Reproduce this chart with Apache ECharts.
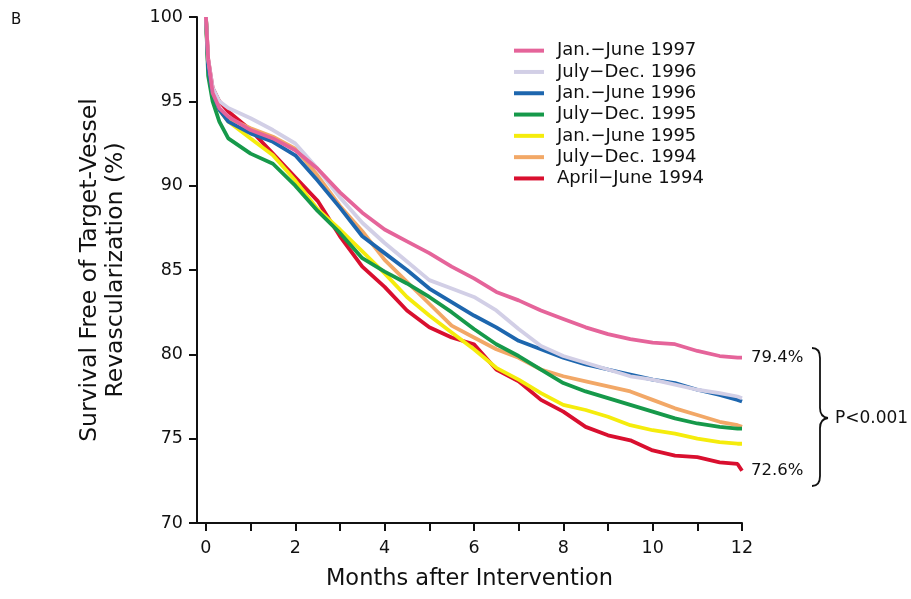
<!DOCTYPE html>
<html>
<head>
<meta charset="utf-8">
<script src="https://cdn.jsdelivr.net/npm/echarts@6/dist/echarts.min.js"></script>
<style>
  html, body { margin: 0; padding: 0; background: #fff; }
  #chart { width: 911px; height: 599px; }
</style>
</head>
<body>
<div id="chart"></div>
<script>
// months after intervention (shared x values for all curves)
var months = [0, 0.05, 0.15, 0.3, 0.5, 1, 1.5, 2, 2.5, 3, 3.5, 4, 4.5, 5, 5.5, 6,
              6.5, 7, 7.5, 8, 8.5, 9, 9.5, 10, 10.5, 11, 11.5, 11.9, 12];

// survival free of TVR (%)
var janJune1997 = [100, 97.5, 95.5, 94.6, 94.1, 93.3, 92.8, 92.1, 91.0, 89.6, 88.4, 87.4, 86.7, 86.0, 85.2, 84.5,
                   83.7, 83.2, 82.6, 82.1, 81.6, 81.2, 80.9, 80.7, 80.6, 80.2, 79.9, 79.8, 79.8];
var julyDec1996 = [100, 97.5, 95.8, 95.0, 94.6, 94.0, 93.3, 92.5, 91.0, 89.3, 87.8, 86.6, 85.5, 84.4, 83.9, 83.4,
                   82.6, 81.5, 80.5, 79.9, 79.5, 79.1, 78.7, 78.5, 78.2, 77.9, 77.7, 77.5, 77.4];
var janJune1996 = [100, 97.0, 95.5, 94.5, 93.8, 93.1, 92.6, 91.8, 90.3, 88.7, 87.0, 86.0, 85.0, 83.9, 83.1, 82.3,
                   81.6, 80.8, 80.3, 79.8, 79.4, 79.1, 78.8, 78.5, 78.3, 77.9, 77.6, 77.3, 77.2];
var julyDec1995 = [100, 96.5, 95.0, 93.8, 92.8, 91.9, 91.3, 90.0, 88.5, 87.2, 85.7, 84.9, 84.2, 83.4, 82.5, 81.5,
                   80.6, 79.9, 79.1, 78.3, 77.8, 77.4, 77.0, 76.6, 76.2, 75.9, 75.7, 75.6, 75.6];
var janJune1995 = [100, 97.0, 95.5, 94.5, 93.8, 92.8, 91.8, 90.3, 88.6, 87.4, 86.1, 84.8, 83.4, 82.3, 81.3, 80.3,
                   79.2, 78.5, 77.7, 77.0, 76.7, 76.3, 75.8, 75.5, 75.3, 75.0, 74.8, 74.7, 74.7];
var julyDec1994 = [100, 97.0, 95.5, 94.5, 94.0, 93.4, 92.9, 92.2, 90.6, 88.8, 87.3, 85.6, 84.3, 83.0, 81.7, 81.0,
                   80.3, 79.8, 79.1, 78.7, 78.4, 78.1, 77.8, 77.3, 76.8, 76.4, 76.0, 75.8, 75.7];
var aprilJune1994 = [100, 97.5, 95.8, 95.0, 94.4, 93.3, 91.9, 90.5, 89.1, 87.0, 85.2, 84.0, 82.6, 81.6, 81.0, 80.6,
                     79.1, 78.4, 77.3, 76.6, 75.7, 75.2, 74.9, 74.3, 74.0, 73.9, 73.6, 73.5, 73.1];

var seriesNames = ['Jan.\u2212June 1997', 'July\u2212Dec. 1996', 'Jan.\u2212June 1996', 'July\u2212Dec. 1995',
                   'Jan.\u2212June 1995', 'July\u2212Dec. 1994', 'April\u2212June 1994'];
var seriesColors = ['#e5649a', '#d2cfe6', '#1d66ae', '#16994a', '#f5ec0c', '#f2a867', '#d90f2f'];
var seriesValues = [janJune1997, julyDec1996, janJune1996, julyDec1995, janJune1995, julyDec1994, aprilJune1994];
var endLabels = {0: '79.4%', 6: '72.6%'};

var xTicks = [0, 1, 2, 3, 4, 5, 6, 7, 8, 9, 10, 11, 12];
var xLabels = [0, 2, 4, 6, 8, 10, 12];

var FONT = "'DejaVu Sans', 'Liberation Sans', sans-serif";

function pairs(vals) {
    var out = [];
    for (var i = 0; i < months.length; i++) {
        out.push([months[i], vals[i]]);
    }
    return out;
}

var myChart = echarts.init(document.getElementById('chart'));

var series = [];
// draw oldest cohort first so that Jan.-June 1997 ends on top
for (var k = seriesNames.length - 1; k >= 0; k--) {
    var s = {
        name: seriesNames[k],
        type: 'line',
        data: pairs(seriesValues[k]),
        showSymbol: false,
        symbol: 'none',
        color: seriesColors[k],
        lineStyle: { width: 3.8, color: seriesColors[k] }
    };
    if (endLabels[k]) {
        s.endLabel = {
            show: true,
            formatter: endLabels[k],
            fontFamily: FONT,
            fontSize: 16.5,
            color: '#111',
            distance: 9
        };
    }
    series.push(s);
}

// curly brace next to the end values
var braceStyle = { fill: 'none', stroke: '#111', lineWidth: 1.8 };
var brace = [
    { type: 'bezierCurve', shape: { x1: 812, y1: 348, cpx1: 820, cpy1: 348, x2: 820, y2: 358 }, style: braceStyle },
    { type: 'line', shape: { x1: 820, y1: 358, x2: 820, y2: 408 }, style: braceStyle },
    { type: 'bezierCurve', shape: { x1: 820, y1: 408, cpx1: 820, cpy1: 417, x2: 828, y2: 418 }, style: braceStyle },
    { type: 'bezierCurve', shape: { x1: 828, y1: 418, cpx1: 820, cpy1: 419, x2: 820, y2: 428 }, style: braceStyle },
    { type: 'line', shape: { x1: 820, y1: 428, x2: 820, y2: 476 }, style: braceStyle },
    { type: 'bezierCurve', shape: { x1: 820, y1: 476, cpx1: 820, cpy1: 486, x2: 812, y2: 486 }, style: braceStyle }
];

var option = {
    backgroundColor: '#fff',
    animation: false,
    grid: { left: 197, right: 169, top: 17, bottom: 76, containLabel: false },
    legend: {
        data: seriesNames,
        orient: 'vertical',
        left: 509,
        top: 35,
        icon: 'rect',
        itemWidth: 30,
        itemHeight: 4,
        itemGap: 0,
        textStyle: {
            fontFamily: FONT,
            fontSize: 18,
            lineHeight: 21.3,
            color: '#111',
            padding: [0, 0, 0, 8]
        }
    },
    xAxis: {
        type: 'value',
        min: -0.2,
        max: 12,
        name: 'Months after Intervention',
        nameLocation: 'middle',
        nameGap: 45,
        nameTextStyle: { fontFamily: FONT, fontSize: 22.5, color: '#111' },
        axisLine: { show: true, onZero: false, lineStyle: { color: '#111', width: 2 } },
        axisTick: { show: true, length: 8, customValues: xTicks, lineStyle: { color: '#111', width: 2 } },
        axisLabel: { customValues: xLabels, fontFamily: FONT, fontSize: 17.5, color: '#111', margin: 16 },
        splitLine: { show: false }
    },
    yAxis: {
        type: 'value',
        min: 70,
        max: 100,
        interval: 5,
        name: 'Survival Free of Target-Vessel\nRevascularization (%)',
        nameLocation: 'middle',
        nameGap: 68,
        nameTextStyle: { fontFamily: FONT, fontSize: 23.5, lineHeight: 26, color: '#111' },
        axisLine: { show: true, onZero: false, lineStyle: { color: '#111', width: 2 } },
        axisTick: { show: true, length: 8, lineStyle: { color: '#111', width: 2 } },
        axisLabel: { fontFamily: FONT, fontSize: 17.5, color: '#111', margin: 14 },
        splitLine: { show: false }
    },
    graphic: [
        {
            type: 'text',
            left: 11,
            top: 13,
            style: { text: 'B', font: '15px ' + FONT, fill: '#111' }
        },
        {
            type: 'text',
            left: 835,
            top: 410,
            style: { text: 'P<0.001', font: '17px ' + FONT, fill: '#111' }
        }
    ].concat(brace),
    series: series
};

myChart.setOption(option);
</script>
</body>
</html>
